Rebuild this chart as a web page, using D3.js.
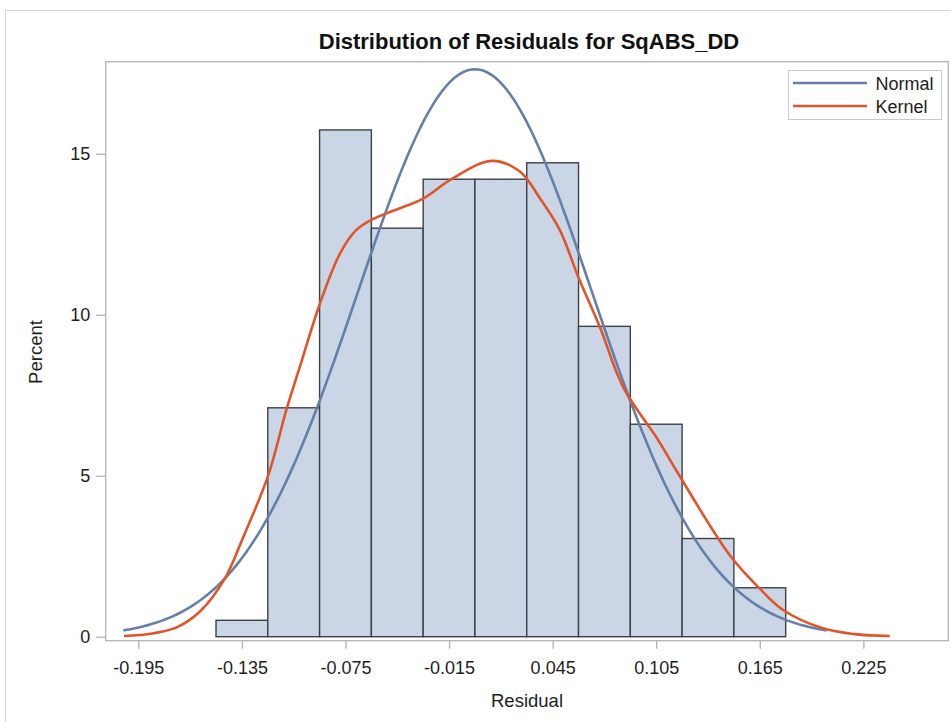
<!DOCTYPE html>
<html>
<head>
<meta charset="utf-8">
<script src="https://cdn.jsdelivr.net/npm/d3@7"></script>
<style>
  html, body { margin: 0; padding: 0; background: #fff; }
  svg { display: block; font-family: "Liberation Sans", Arial, sans-serif; }
</style>
</head>
<body>
<svg id="chart" width="951" height="722"></svg>
<script>
// Histogram bins (residual intervals) and their percentages
const binStarts = [-0.15, -0.12, -0.09, -0.06, -0.03, 0.0, 0.03, 0.06, 0.09, 0.12, 0.15];
const binWidth = 0.03;
const binPercents = [0.51, 7.11, 15.74, 12.69, 14.21, 14.21, 14.72, 9.64, 6.60, 3.05, 1.52];

// Fitted normal parameters
const normalMean = 0.0;
const normalSigma = 0.0679;

// Kernel density estimate, sampled points (residual, percent)
const kernelX = [-0.2033, -0.1870, -0.1728, -0.1590, -0.1448, -0.1342, -0.1200, -0.1090, -0.1014, -0.0898, -0.0782, -0.0690, -0.0603, -0.0473, -0.0300, -0.0145, 0.0096, 0.0260, 0.0376, 0.0492, 0.0598, 0.0723, 0.0858, 0.1061, 0.1177, 0.1475, 0.1649, 0.1785, 0.2016, 0.2200, 0.2403];
const kernelY = [0.02, 0.10, 0.29, 0.80, 1.81, 3.10, 4.97, 7.09, 8.39, 10.35, 11.90, 12.62, 12.94, 13.23, 13.61, 14.18, 14.78, 14.45, 13.62, 12.63, 11.18, 9.63, 7.76, 6.11, 5.07, 2.54, 1.50, 0.83, 0.26, 0.08, 0.02];

// Axis ticks
const xTicks = [-0.195, -0.135, -0.075, -0.015, 0.045, 0.105, 0.165, 0.225];
const yTicks = [0, 5, 10, 15];

const title = "Distribution of Residuals for SqABS_DD";
const xLabel = "Residual";
const yLabel = "Percent";
const legendItems = [
  { name: "Normal", color: "#667fa9" },
  { name: "Kernel", color: "#e0552b" }
];

const svg = d3.select("#chart");
const plot = { left: 105.7, top: 61.7, right: 948.3, bottom: 640.7 };
const textColor = "#1e1e1e";
const fontFam = "Liberation Sans, Arial, sans-serif";

const x = d3.scaleLinear().domain([-0.2139, 0.2742]).range([plot.left, plot.right]);
const y = d3.scaleLinear().domain([-0.124, 17.86]).range([plot.bottom, plot.top]);

// outer frame
svg.append("rect")
  .attr("x", 5.5).attr("y", 10.5)
  .attr("width", 960).attr("height", 730)
  .attr("fill", "none").attr("stroke", "#d0d3d6").attr("stroke-width", 1);

// title
svg.append("text")
  .attr("x", 529).attr("y", 49)
  .attr("text-anchor", "middle")
  .attr("font-size", 22).attr("font-weight", "bold")
  .attr("fill", "#111")
  .text(title);

// histogram bars
svg.append("g").selectAll("rect")
  .data(binStarts.map((s, i) => ({ s, p: binPercents[i] })))
  .join("rect")
  .attr("x", d => x(d.s))
  .attr("y", d => y(d.p))
  .attr("width", d => x(d.s + binWidth) - x(d.s))
  .attr("height", d => y(0) - y(d.p))
  .attr("fill", "#cad5e5")
  .attr("stroke", "#3b4047")
  .attr("stroke-width", 1.4);

// normal curve from fitted parameters (percent per bin width)
const normalDomain = d3.range(0, 201).map(i => normalMean - 3 * normalSigma + i * (6 * normalSigma / 200));
const normalPts = normalDomain.map(v => [v,
  100 * binWidth / (normalSigma * Math.sqrt(2 * Math.PI)) * Math.exp(-0.5 * ((v - normalMean) / normalSigma) ** 2)]);

const line = d3.line().x(d => x(d[0])).y(d => y(d[1]));

svg.append("path")
  .attr("d", line(normalPts))
  .attr("fill", "none")
  .attr("stroke", legendItems[0].color)
  .attr("stroke-width", 2.6);

svg.append("path")
  .attr("d", line.curve(d3.curveCatmullRom.alpha(0.5))(kernelX.map((v, i) => [v, kernelY[i]])))
  .attr("fill", "none")
  .attr("stroke", legendItems[1].color)
  .attr("stroke-width", 2.6);

// plot frame
svg.append("rect")
  .attr("x", plot.left).attr("y", plot.top)
  .attr("width", plot.right - plot.left).attr("height", plot.bottom - plot.top)
  .attr("fill", "none").attr("stroke", "#b4b8bd").attr("stroke-width", 1.4);

// y axis
const yAxis = d3.axisLeft(y).tickValues(yTicks).tickSize(9.5).tickPadding(6).tickFormat(d3.format("d"));
const gy = svg.append("g").attr("transform", `translate(${plot.left},0)`).call(yAxis);
gy.select(".domain").remove();
gy.selectAll(".tick line").attr("stroke", "#b4b8bd").attr("stroke-width", 1.4);
gy.selectAll(".tick text").attr("font-size", 18).attr("fill", textColor).attr("font-family", fontFam);

// x axis
const xAxis = d3.axisBottom(x).tickValues(xTicks).tickSize(8).tickPadding(13).tickFormat(d3.format(".3f"));
const gx = svg.append("g").attr("transform", `translate(0,${plot.bottom})`).call(xAxis);
gx.select(".domain").remove();
gx.selectAll(".tick line").attr("stroke", "#b4b8bd").attr("stroke-width", 1.4);
gx.selectAll(".tick text").attr("font-size", 18).attr("fill", textColor).attr("font-family", fontFam)
  .text(d => d3.format(".3f")(d).replace("−", "-"));

// axis labels
svg.append("text")
  .attr("x", 527).attr("y", 706.5)
  .attr("text-anchor", "middle").attr("font-size", 18.5).attr("fill", textColor)
  .text(xLabel);

svg.append("text")
  .attr("transform", `translate(42,352) rotate(-90)`)
  .attr("text-anchor", "middle").attr("font-size", 18.5).attr("fill", textColor)
  .text(yLabel);

// legend
const lg = svg.append("g");
lg.append("rect")
  .attr("x", 788.5).attr("y", 70.5).attr("width", 153).attr("height", 49)
  .attr("fill", "#fff").attr("stroke", "#c8cbce").attr("stroke-width", 1);
legendItems.forEach((it, i) => {
  const cy = 83 + i * 23;
  lg.append("line")
    .attr("x1", 793).attr("x2", 867).attr("y1", cy).attr("y2", cy)
    .attr("stroke", it.color).attr("stroke-width", 2.6);
  lg.append("text")
    .attr("x", 875.5).attr("y", cy + 6.5)
    .attr("font-size", 18).attr("fill", textColor)
    .text(it.name);
});
</script>
</body>
</html>
